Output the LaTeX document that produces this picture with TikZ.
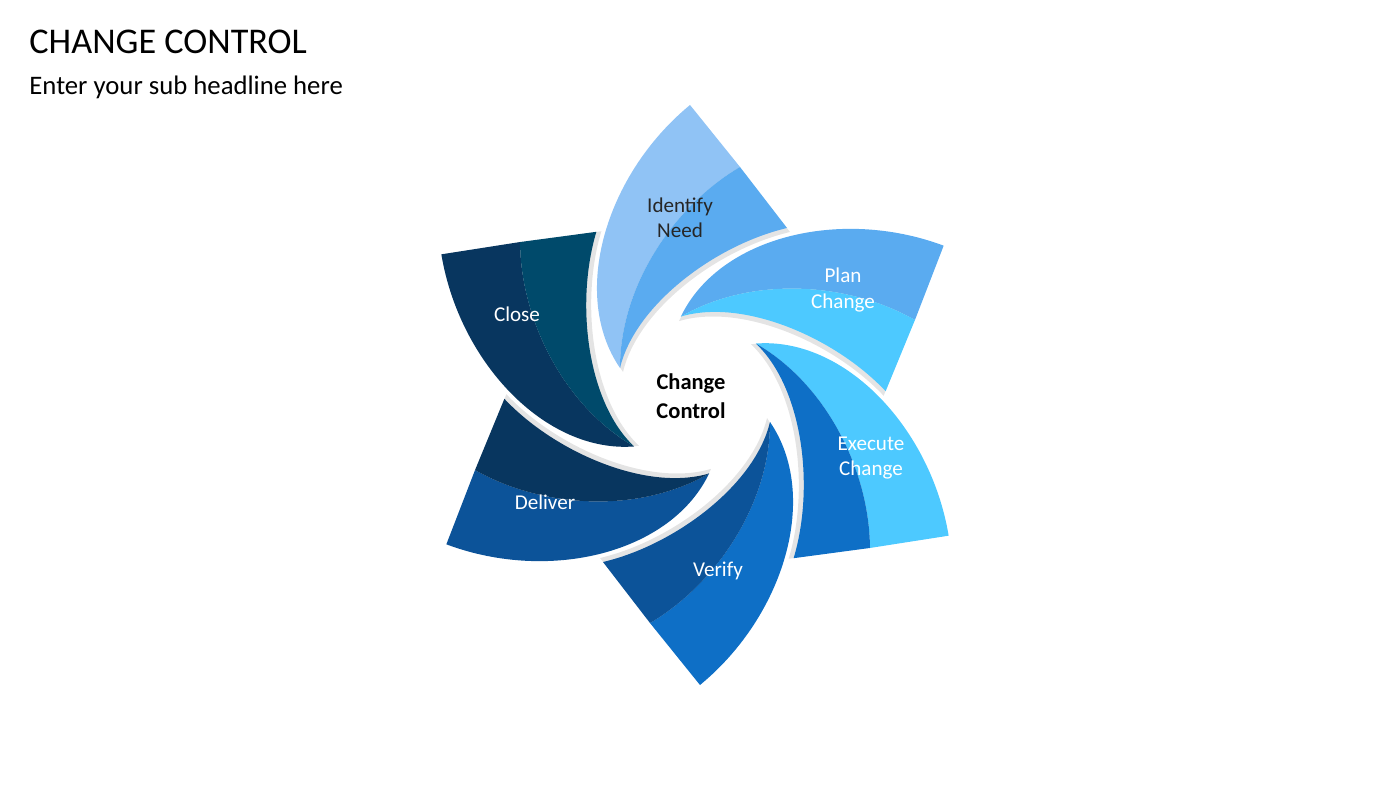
\documentclass[tikz,border=0pt]{standalone}
\usepackage{fontspec}
\setmainfont{Carlito}
\definecolor{idA}{HTML}{90C3F5}
\definecolor{idB}{HTML}{5AABF0}
\definecolor{plB}{HTML}{4DC9FF}
\definecolor{exB}{HTML}{0E6FC6}
\definecolor{veB}{HTML}{0C5399}
\definecolor{deB}{HTML}{08365F}
\definecolor{clB}{HTML}{004A6B}
\tikzset{
	label/.style={font=\fontsize{6}{7.2}\selectfont, align=center, text=white},
	shade/.style={fill=black!35, opacity=0.3}
}
\begin{document}
\begin{tikzpicture}[x=0.01cm, y=-0.01cm]
	\useasboundingbox (0,0) rectangle (1400,788);
	
	\node[anchor=west, font=\fontsize{10.3}{12}\selectfont] (title) at (17,42) {CHANGE CONTROL};
	\node[anchor=west, font=\fontsize{7.6}{9}\selectfont] (sub) at (17,87) {Enter your sub headline here};
	
	% blades
	\foreach \ang/\ca/\cb in {0/idA/idB, 60/idB/plB, 120/plB/exB, 180/exB/veB, 240/veB/deB, 300/deB/clB} {
		\begin{scope}[shift={(695,395)}, rotate=-\ang]
			\fill[shade] ([shift={(3,4)}]-75,-27) .. controls ([shift={(3,4)}]-125,-100) and ([shift={(3,4)}]-90,-220) .. ([shift={(3,4)}]-5,-290)
				-- ([shift={(3,4)}]92,-167) .. controls ([shift={(3,4)}]20,-150) and ([shift={(3,4)}]-60,-90) .. cycle;
			\fill[\ca] (-75,-27) .. controls (-125,-100) and (-90,-220) .. (-5,-290)
				-- (45,-228) .. controls (-20,-190) and (-75,-110) .. cycle;
			\fill[\cb] (-75,-27) .. controls (-75,-110) and (-20,-190) .. (45,-228)
				-- (92,-167) .. controls (20,-150) and (-60,-90) .. cycle;
		\end{scope}
	}
	
	\node[label, text=black!85] (identify) at (680,218) {Identify\\Need};
	\node[label] (plan) at (843,290) {Plan\\Change};
	\node[label] (execute) at (871,458) {Execute\\Change};
	\node[label] (verify) at (718,571) {Verify};
	\node[label] (deliver) at (545,502) {Deliver};
	\node[label] (close) at (517,314) {Close};
	\node[label, text=black, font=\bfseries\fontsize{6.4}{8.4}\selectfont] (center) at (691,396) {Change\\Control};
\end{tikzpicture}
\end{document}
